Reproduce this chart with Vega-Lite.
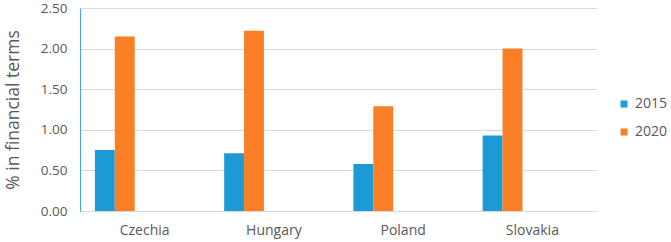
{
  "$schema": "https://vega.github.io/schema/vega-lite/v6.json",
  "width": 517,
  "height": 203,
  "autosize": {"type": "none"},
  "padding": {"left": 80, "top": 8, "right": 74, "bottom": 31},
  "background": "white",
  "config": {"view": {"stroke": null}, "font": "Open Sans"},
  "data": {
    "values": [
      {"country": "Czechia", "series": "2015", "value": 0.75},
      {"country": "Czechia", "series": "2020", "value": 2.15},
      {"country": "Hungary", "series": "2015", "value": 0.71},
      {"country": "Hungary", "series": "2020", "value": 2.22},
      {"country": "Poland", "series": "2015", "value": 0.58},
      {"country": "Poland", "series": "2020", "value": 1.29},
      {"country": "Slovakia", "series": "2015", "value": 0.93},
      {"country": "Slovakia", "series": "2020", "value": 2.0}
    ]
  },
  "mark": {"type": "bar"},
  "encoding": {
    "x": {
      "field": "country",
      "type": "nominal",
      "sort": null,
      "scale": {"paddingInner": 0, "paddingOuter": 0},
      "axis": {
        "title": null,
        "labelAngle": 0,
        "domainColor": "#d9d9d9",
        "ticks": false,
        "labelFontSize": 14,
        "labelColor": "#595959",
        "labelPadding": 12
      }
    },
    "xOffset": {
      "field": "series",
      "type": "nominal",
      "scale": {
        "domain": ["2015", "2020", "s3", "s4", "s5"],
        "paddingInner": 0,
        "paddingOuter": 0.75
      }
    },
    "y": {
      "field": "value",
      "type": "quantitative",
      "scale": {"domain": [0, 2.5]},
      "axis": {
        "values": [0, 0.5, 1, 1.5, 2, 2.5],
        "format": ".2f",
        "title": "% in financial terms",
        "titleFontSize": 17.5,
        "titleFontWeight": "normal",
        "titleColor": "#595959",
        "titlePadding": 18,
        "grid": true,
        "gridColor": "#d9d9d9",
        "domainColor": "#42a9df",
        "ticks": false,
        "labelPadding": 13,
        "labelFontSize": 13.5,
        "labelColor": "#595959"
      }
    },
    "color": {
      "field": "series",
      "type": "nominal",
      "scale": {"domain": ["2015", "2020"], "range": ["#1c9ad6", "#fa7e25"]},
      "legend": {
        "title": null,
        "orient": "none",
        "legendX": 537,
        "legendY": 89,
        "symbolType": "square",
        "symbolSize": 49,
        "symbolStrokeWidth": 0,
        "labelFontSize": 14,
        "labelColor": "#595959",
        "labelOffset": 4,
        "rowPadding": 14
      }
    }
  }
}
